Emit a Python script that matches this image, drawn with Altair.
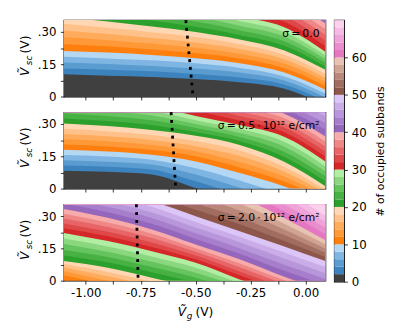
import altair as alt
import pandas as pd

# ---------------- data ----------------
# Vg columns at which the contour boundaries (Vsc, in V) were read
VG = [-1.10, -0.90, -0.70, -0.50, -0.30, -0.10, 0.09]

LEVELS = list(range(0, 70, 2))
COLORS = [
    "#404040", "#3c83be", "#5a9bd0", "#7fb5e2", "#b4d8f4",
    "#ff7f0e", "#ff9837", "#ffab5c", "#ffc18a", "#ffd7b5",
    "#2ca02c", "#48b144", "#66c45f", "#8ad77f", "#b2eda4",
    "#d62728", "#df4849", "#e76566", "#ef8787", "#f8abab",
    "#9467bd", "#a67ecc", "#b896da", "#c9ace8", "#dcc6f7",
    "#8c564b", "#a26d61", "#b98779", "#d0a393", "#e8c2b2",
    "#e377c2", "#e98dcd", "#efa3d8", "#f5bae3", "#fbd2ee",
]

# lower boundary (Vsc) of each subband-count level, sigma = 0
P1 = {
    0: [-0.100, -0.100, -0.100, -0.100, -0.100, -0.100, -0.100],
    2: [0.103, 0.097, 0.091, 0.081, 0.066, 0.037, -0.040],
    4: [0.130, 0.124, 0.117, 0.105, 0.088, 0.056, -0.022],
    6: [0.158, 0.151, 0.142, 0.130, 0.111, 0.075, -0.004],
    8: [0.185, 0.177, 0.168, 0.154, 0.133, 0.094, 0.014],
    10: [0.212, 0.204, 0.193, 0.178, 0.155, 0.113, 0.032],
    12: [0.244, 0.233, 0.219, 0.202, 0.177, 0.133, 0.050],
    14: [0.275, 0.262, 0.246, 0.227, 0.199, 0.154, 0.069],
    16: [0.307, 0.290, 0.272, 0.251, 0.221, 0.174, 0.087],
    18: [0.338, 0.319, 0.299, 0.276, 0.243, 0.195, 0.105],
    20: [0.370, 0.348, 0.325, 0.300, 0.265, 0.215, 0.124],
    22: [0.402, 0.378, 0.353, 0.324, 0.286, 0.237, 0.141],
    24: [0.434, 0.409, 0.381, 0.348, 0.308, 0.258, 0.158],
    26: [0.466, 0.439, 0.409, 0.372, 0.329, 0.280, 0.174],
    28: [0.498, 0.470, 0.437, 0.396, 0.351, 0.301, 0.191],
    30: [0.530, 0.500, 0.465, 0.420, 0.372, 0.323, 0.208],
    32: [0.562, 0.530, 0.494, 0.448, 0.398, 0.348, 0.234],
    34: [0.594, 0.560, 0.523, 0.476, 0.423, 0.374, 0.261],
    36: [0.626, 0.590, 0.552, 0.504, 0.449, 0.399, 0.287],
    38: [0.658, 0.620, 0.581, 0.532, 0.474, 0.425, 0.314],
    40: [0.690, 0.650, 0.610, 0.560, 0.500, 0.450, 0.340],
    42: [0.720, 0.680, 0.640, 0.590, 0.530, 0.480, 0.366],
}

# sigma = 0.5e12 e/cm^2
P2 = {
    0: [-0.100, -0.100, -0.100, -0.100, -0.100, -0.100, -0.100],
    2: [0.083, 0.078, 0.066, 0.003, -0.066, -0.150, -0.220],
    4: [0.107, 0.102, 0.089, 0.034, -0.032, -0.110, -0.180],
    6: [0.132, 0.125, 0.112, 0.065, 0.004, -0.069, -0.140],
    8: [0.156, 0.149, 0.134, 0.095, 0.038, -0.029, -0.100],
    10: [0.180, 0.172, 0.157, 0.126, 0.072, 0.011, -0.066],
    12: [0.205, 0.196, 0.180, 0.150, 0.098, 0.034, -0.051],
    14: [0.229, 0.220, 0.203, 0.174, 0.124, 0.057, -0.035],
    16: [0.254, 0.243, 0.226, 0.197, 0.151, 0.080, -0.020],
    18: [0.278, 0.267, 0.249, 0.221, 0.177, 0.103, -0.005],
    20: [0.303, 0.291, 0.272, 0.245, 0.203, 0.126, 0.011],
    22: [0.326, 0.314, 0.295, 0.263, 0.221, 0.149, 0.034],
    24: [0.350, 0.337, 0.317, 0.282, 0.240, 0.172, 0.057],
    26: [0.373, 0.359, 0.340, 0.300, 0.258, 0.196, 0.080],
    28: [0.397, 0.382, 0.362, 0.318, 0.277, 0.219, 0.103],
    30: [0.420, 0.405, 0.385, 0.337, 0.295, 0.242, 0.126],
    32: [0.448, 0.432, 0.410, 0.362, 0.316, 0.263, 0.149],
    34: [0.476, 0.459, 0.435, 0.386, 0.337, 0.285, 0.172],
    36: [0.504, 0.486, 0.460, 0.411, 0.358, 0.306, 0.196],
    38: [0.532, 0.513, 0.485, 0.435, 0.379, 0.328, 0.219],
    40: [0.560, 0.540, 0.510, 0.460, 0.400, 0.349, 0.242],
    42: [0.588, 0.568, 0.536, 0.484, 0.424, 0.371, 0.274],
    44: [0.616, 0.596, 0.562, 0.508, 0.448, 0.393, 0.305],
    46: [0.644, 0.624, 0.588, 0.532, 0.472, 0.416, 0.337],
    48: [0.672, 0.652, 0.614, 0.556, 0.496, 0.438, 0.368],
}

# sigma = 2.0e12 e/cm^2
P3 = {
    10: [-0.005, -0.040, -0.080, -0.120, -0.160, -0.200, -0.240],
    12: [0.025, -0.020, -0.061, -0.102, -0.144, -0.184, -0.224],
    14: [0.045, 0.000, -0.042, -0.085, -0.128, -0.168, -0.208],
    16: [0.062, 0.020, -0.024, -0.067, -0.112, -0.152, -0.192],
    18: [0.077, 0.040, -0.005, -0.050, -0.096, -0.136, -0.176],
    20: [0.091, 0.060, 0.014, -0.032, -0.080, -0.120, -0.160],
    22: [0.117, 0.085, 0.039, -0.009, -0.063, -0.109, -0.152],
    24: [0.143, 0.110, 0.063, 0.014, -0.046, -0.097, -0.144],
    26: [0.170, 0.134, 0.088, 0.037, -0.028, -0.086, -0.136],
    28: [0.196, 0.159, 0.112, 0.060, -0.011, -0.074, -0.128],
    30: [0.222, 0.184, 0.137, 0.083, 0.006, -0.063, -0.120],
    32: [0.244, 0.206, 0.157, 0.100, 0.025, -0.047, -0.106],
    34: [0.266, 0.227, 0.177, 0.117, 0.043, -0.030, -0.091],
    36: [0.289, 0.249, 0.198, 0.134, 0.062, -0.014, -0.077],
    38: [0.311, 0.270, 0.218, 0.151, 0.080, 0.003, -0.062],
    40: [0.333, 0.292, 0.238, 0.168, 0.099, 0.019, -0.048],
    42: [0.358, 0.318, 0.264, 0.194, 0.125, 0.047, -0.020],
    44: [0.384, 0.343, 0.291, 0.220, 0.151, 0.075, 0.008],
    46: [0.409, 0.369, 0.317, 0.247, 0.178, 0.104, 0.035],
    48: [0.435, 0.394, 0.344, 0.273, 0.204, 0.132, 0.063],
    50: [0.460, 0.420, 0.370, 0.299, 0.230, 0.160, 0.091],
    52: [0.488, 0.448, 0.398, 0.329, 0.262, 0.186, 0.110],
    54: [0.516, 0.476, 0.426, 0.359, 0.294, 0.213, 0.130],
    56: [0.544, 0.504, 0.454, 0.390, 0.326, 0.239, 0.149],
    58: [0.572, 0.532, 0.482, 0.420, 0.358, 0.266, 0.169],
    60: [0.600, 0.560, 0.510, 0.450, 0.390, 0.292, 0.188],
    62: [0.628, 0.588, 0.538, 0.478, 0.418, 0.324, 0.216],
    64: [0.656, 0.616, 0.566, 0.506, 0.446, 0.355, 0.245],
    66: [0.684, 0.644, 0.594, 0.534, 0.474, 0.387, 0.273],
    68: [0.712, 0.672, 0.622, 0.562, 0.502, 0.418, 0.302],
}

SIGMA_LABELS = ["σ\u2009=\u20090.0",
                "σ\u2009=\u20090.5\u2009·\u200910¹² e/cm²",
                "σ\u2009=\u20092.0\u2009·\u200910¹² e/cm²"]
DOT_TOP_VG = [-0.545, -0.612, -0.770]
DOT_BOT_VG = [-0.512, -0.591, -0.762]
DOT_VSC = [0.355, 0.0]

X_TICKS = [-1.0, -0.875, -0.75, -0.625, -0.5, -0.375, -0.25, -0.125, 0.0]
Y_TICKS = [0.0, 0.075, 0.15, 0.225, 0.30]
CB_TICKS = [0, 10, 20, 30, 40, 50, 60]

# ---------------- chart ----------------
W, H = 267, 78
FONT = "DejaVu Sans"

color_scale = alt.Scale(domain=LEVELS, range=COLORS)
xscale = alt.Scale(domain=[-1.10, 0.09], nice=False, zero=False)
yscale = alt.Scale(domain=[0, 0.355], nice=False, zero=False)

X_LABEL_EXPR = ("abs(datum.value * 4 - round(datum.value * 4)) < 0.001 ? "
                "replace(format(datum.value, '.2f'), '\u2212', '-') : ''")
Y_LABEL_EXPR = ("abs(datum.value) < 0.001 ? '0' : (abs(datum.value - 0.15) < 0.001 ? '.15' : "
                "(abs(datum.value - 0.3) < 0.001 ? '.30' : ''))")


def txt(s, x, y, size=12.5, italic=False, angle=0, align="left"):
    kw = dict(align=align, baseline="alphabetic", fontSize=size, font=FONT, color="black")
    if italic:
        kw["fontStyle"] = "italic"
    if angle:
        kw["angle"] = angle
    return alt.Chart(pd.DataFrame({"t": [s]})).mark_text(**kw).encode(
        x=alt.value(x), y=alt.value(y), text="t:N")


def panel(P, idx, bottom):
    rows = []
    for lvl in sorted(P):
        for vg, v in zip(VG, P[lvl]):
            rows.append({"Vg": vg, "lo": v, "level": lvl})
    df = pd.DataFrame(rows)
    xaxis = alt.Axis(values=X_TICKS, title=None, labels=bottom, labelExpr=X_LABEL_EXPR,
                     labelPadding=4, labelFlush=False)
    yaxis = alt.Axis(values=Y_TICKS, title=None, labelExpr=Y_LABEL_EXPR, labelPadding=4.5)
    bands = alt.Chart(df).mark_area(interpolate="monotone", clip=True).encode(
        x=alt.X("Vg:Q", scale=xscale, axis=xaxis),
        y=alt.Y("lo:Q", scale=yscale, axis=yaxis, stack=None),
        y2=alt.value(0),
        color=alt.Color("level:O", scale=color_scale, legend=None),
    )
    dot_df = pd.DataFrame({"Vg": [DOT_TOP_VG[idx], DOT_BOT_VG[idx]], "Vsc": DOT_VSC})
    dots = alt.Chart(dot_df).mark_line(color="black", strokeDash=[3, 5], strokeWidth=2.8,
                                       strokeCap="butt").encode(
        x=alt.X("Vg:Q", scale=xscale, axis=xaxis),
        y=alt.Y("Vsc:Q", scale=yscale, axis=yaxis),
    )
    sig = txt(SIGMA_LABELS[idx], W - 6, 17, size=11, align="right")
    layers = [bands, dots, sig,
              txt("V\u0303", -35.7, 57, italic=True, angle=270),
              txt("sc", -32.5, 46, size=9, italic=True, angle=270),
              txt("(V)", -35.7, 34, angle=270)]
    if bottom:
        layers += [txt("V\u0303", 116.3, 114.5, italic=True),
                   txt("g", 125.5, 117.5, size=9, italic=True),
                   txt("(V)", 134.3, 114.5)]
    return alt.layer(*layers).properties(width=W, height=H)


p1 = panel(P1, 0, False)
p2 = panel(P2, 1, False)
p3 = panel(P3, 2, True)

cb_df = pd.DataFrame({"level": LEVELS})
cbar = alt.Chart(cb_df).transform_calculate(top="datum.level + 2").mark_rect().encode(
    x=alt.value(0), x2=alt.value(10),
    y=alt.Y("level:Q", scale=alt.Scale(domain=[0, 70], nice=False, zero=False),
            axis=alt.Axis(orient="right", values=CB_TICKS, title="# of occupied subbands",
                          titleAngle=270, titleBaseline="top", titleFontSize=11,
                          titleFontWeight="normal", titlePadding=9, labelPadding=4)),
    y2="top:Q",
    color=alt.Color("level:O", scale=color_scale, legend=None),
).properties(width=10, height=267)

left = alt.vconcat(p1, p2, p3, spacing=16, bounds="flush")
chart = alt.hconcat(left, cbar, spacing=7).properties(
    padding={"left": 10, "top": 2, "right": 4, "bottom": 4}
).configure(font=FONT).configure_view(
    stroke="black", strokeWidth=1.2
).configure_axis(
    domain=False, grid=False, tickColor="black", tickWidth=0.8, tickSize=3.5,
    labelColor="black", labelFont=FONT, labelFontSize=12, titleFont=FONT, titleColor="black"
)

chart.save("out.html", embed_options={"renderer": "svg", "actions": False})
